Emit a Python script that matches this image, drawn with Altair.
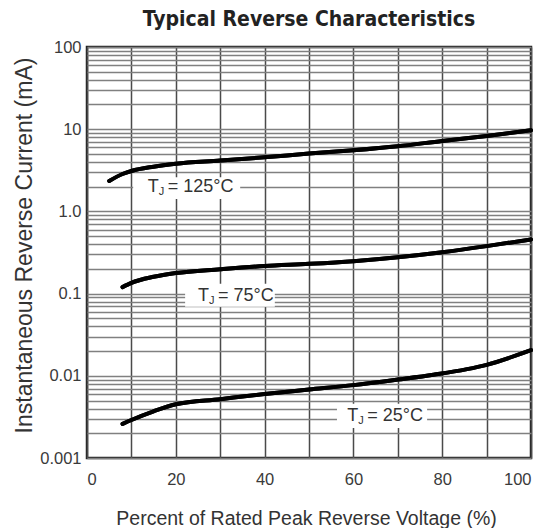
import altair as alt
import pandas as pd

# ---- data ----
pct_125 = [5, 8, 10, 15, 20, 30, 40, 50, 60, 70, 80, 90, 100]
cur_125 = [2.35, 2.85, 3.1, 3.5, 3.8, 4.15, 4.55, 5.05, 5.54, 6.2, 7.2, 8.28, 9.7]

pct_75 = [8, 10, 15, 20, 30, 40, 50, 60, 70, 80, 90, 100]
cur_75 = [0.12, 0.135, 0.16, 0.178, 0.198, 0.217, 0.23, 0.248, 0.277, 0.319, 0.378, 0.456]

pct_25 = [8, 10, 15, 20, 30, 40, 50, 60, 70, 78, 90, 100]
cur_25 = [0.0026, 0.0029, 0.0037, 0.0045, 0.0052, 0.006, 0.0068, 0.0077, 0.009, 0.0103, 0.0136, 0.0205]

series = ["125", "75", "25"]

label_names = ["= 125°C", "= 75°C", "= 25°C"]
label_x = [13.7, 25.0, 58.6]
label_y = [1.96, 0.0946, 0.00325]
box_x1 = [10.4, 22.1, 56.3]
box_x2 = [34.5, 42.3, 76.6]
box_y1 = [1.42, 0.069, 0.00232]
box_y2 = [2.6, 0.132, 0.00456]

x_ticks = list(range(0, 101, 10))
y_ticks = [float(f"{k}e{e}") for e in range(-3, 2) for k in range(1, 10)] + [100.0]
y_decades = [100, 10, 1, 0.1, 0.01, 0.001]
y_decade_labels = ["100", "10", "1.0", "0.1", "0.01", "0.001"]

# ---- tables ----
rows = []
for name, xs, ys in [("125", pct_125, cur_125), ("75", pct_75, cur_75), ("25", pct_25, cur_25)]:
    for a, b in zip(xs, ys):
        rows.append({"series": name, "pct": a, "cur": b})
curves = pd.DataFrame(rows)

labels = pd.DataFrame({
    "series": series, "text": label_names, "x": label_x, "y": label_y,
    "bx1": box_x1, "bx2": box_x2, "by1": box_y1, "by2": box_y2,
})

FONT = "Liberation Sans"
xscale = alt.Scale(domain=[0, 100], nice=False)
yscale = alt.Scale(type="log", domain=[0.001, 100], nice=False)

dec_arr = "[" + ",".join(str(v) for v in y_decades) + "]"
lab_arr = "[" + ",".join(f"'{v}'" for v in y_decade_labels) + "]"
ylabel_expr = f"indexof({dec_arr}, datum.value) >= 0 ? {lab_arr}[indexof({dec_arr}, datum.value)] : ''"

x_axis = alt.Axis(
    values=x_ticks, grid=True, gridColor="#4a4a4a", gridWidth=1.5, gridOpacity=1,
    ticks=False, domain=False, labelExpr="datum.value % 20 == 0 ? datum.label : ''",
    labelFont=FONT, labelFontSize=16.5, labelColor="#3a3a3a", labelPadding=13,
    title="Percent of Rated Peak Reverse Voltage (%)", titleFont=FONT, titleFontSize=19.5,
    titleFontWeight="normal", titleColor="#333", titleY=60, titleBaseline="middle",
    titleX=219, titleAlign="center", labelOverlap=False,
)
y_axis = alt.Axis(
    values=y_ticks, grid=True, gridColor="#808080", gridWidth=1.5, gridOpacity=1,
    ticks=False, domain=False, labelExpr=ylabel_expr,
    labelFont=FONT, labelFontSize=16.5, labelColor="#3a3a3a", labelPadding=6,
    title="Instantaneous Reverse Current (mA)", titleFont=FONT, titleFontSize=23,
    titleFontWeight="normal", titleColor="#333", titleX=-63, titleY=198,
    titleAngle=-90, titleAlign="center", titleBaseline="middle", labelOverlap=False,
)

base_x = alt.X("pct:Q", scale=xscale, axis=x_axis)
base_y = alt.Y("cur:Q", scale=yscale, axis=y_axis)

lines = alt.Chart(curves).mark_line(color="black", strokeWidth=4, interpolate="monotone", strokeCap="round").encode(
    x=base_x, y=base_y, detail="series:N"
)

boxes = alt.Chart(labels).mark_rect(color="white").encode(
    x=alt.X("bx1:Q", scale=xscale), x2="bx2:Q",
    y=alt.Y("by1:Q", scale=yscale), y2="by2:Q",
)

t_main = alt.Chart(labels).mark_text(align="left", baseline="middle", font=FONT, fontSize=18, color="#333").encode(
    x=alt.X("x:Q", scale=xscale), y=alt.Y("y:Q", scale=yscale), text=alt.value("T")
)
t_sub = alt.Chart(labels).mark_text(align="left", baseline="middle", font=FONT, fontSize=11, color="#333", dx=11, dy=5).encode(
    x=alt.X("x:Q", scale=xscale), y=alt.Y("y:Q", scale=yscale), text=alt.value("J")
)
t_rest = alt.Chart(labels).mark_text(align="left", baseline="middle", font=FONT, fontSize=18, color="#333", dx=20).encode(
    x=alt.X("x:Q", scale=xscale), y=alt.Y("y:Q", scale=yscale), text="text:N"
)

chart = alt.layer(lines, boxes, lines, t_main, t_sub, t_rest).properties(
    width=444, height=411,
    title=alt.TitleParams("Typical Reverse Characteristics",
                          font="'DejaVu Sans Condensed', 'Liberation Sans', sans-serif",
                          fontSize=21, fontWeight="bold", color="#222", anchor="middle", offset=9),
    autosize=alt.AutoSizeParams(type="none"),
    padding={"left": 79, "top": 39, "right": 10, "bottom": 70},
).configure_view(stroke="#222", strokeWidth=2.5)

chart.save("out.html", embed_options={"renderer": "svg", "actions": False})
